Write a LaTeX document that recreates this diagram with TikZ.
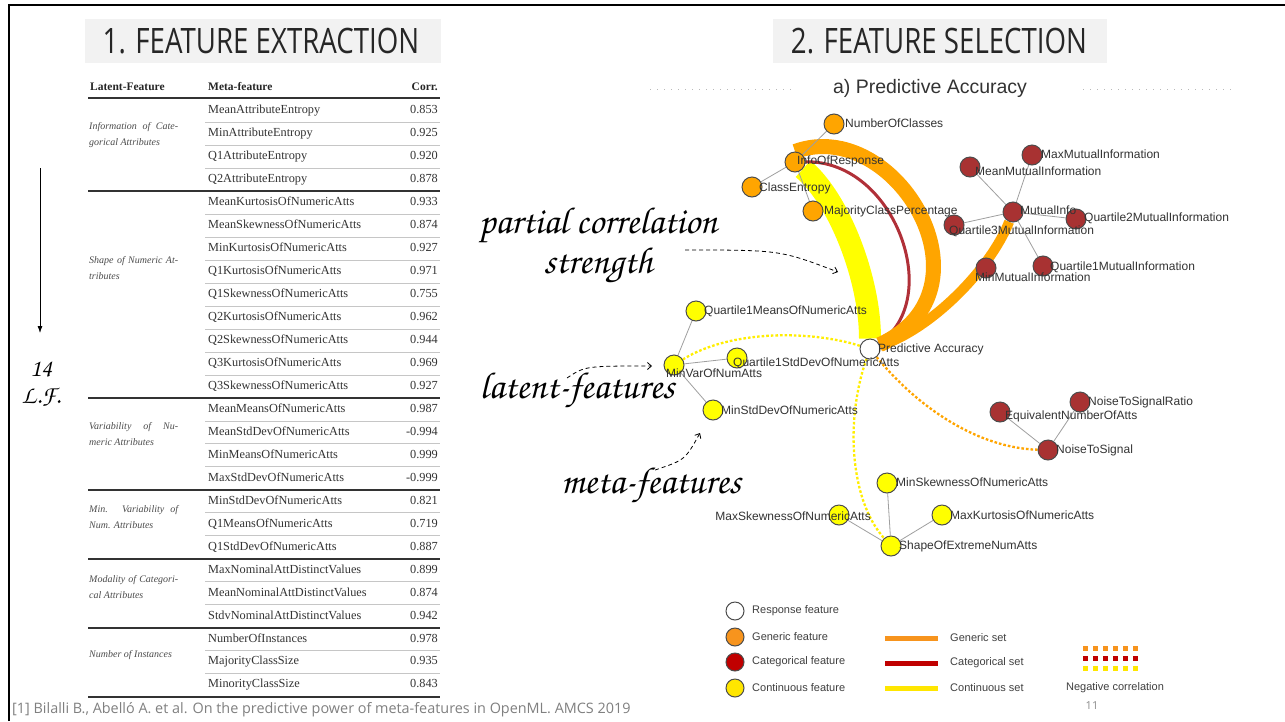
\documentclass[tikz,border=0pt]{standalone}
\usepackage[T1,TU]{fontenc}
\usepackage{fontspec}
\setmainfont{Liberation Serif}
\newfontfamily\sansfont{Liberation Sans}
\newfontfamily\slidefont{Open Sans}
\newfontfamily\titlefont[FakeStretch=0.79]{Open Sans}
\newcommand\handfont{\fontencoding{T1}\fontfamily{pzc}\fontseries{mb}\fontshape{it}\selectfont}
\usepackage{tikz}
\usetikzlibrary{arrows.meta}
\usetikzlibrary{backgrounds}

\definecolor{genorange}{HTML}{FFA500}
\definecolor{catred}{HTML}{A83232}
\definecolor{conyellow}{HTML}{FFFF00}
\definecolor{setred}{HTML}{B03038}
\definecolor{dotyellow}{HTML}{FFEE00}
\definecolor{lgorange}{HTML}{F7941D}
\definecolor{lgred}{HTML}{C00000}
\definecolor{lgyellow}{HTML}{FFE600}

\tikzset{
  fnode/.style={circle,draw=black!70,line width=1pt,minimum size=20pt,inner sep=0pt},
  gen/.style={fnode,fill=genorange},
  cat/.style={fnode,fill=catred},
  con/.style={fnode,fill=conyellow},
  resp/.style={fnode,fill=white},
  flabel/.style={anchor=west,inner sep=0pt,text height=8.5pt,text depth=2.5pt,font=\sansfont\fontsize{12}{12}\selectfont,text=black!80},
  link/.style={draw=gray!75,line width=0.8pt},
  negcor/.style={line width=2.3pt,dash pattern=on 2.6pt off 2pt},
  meta/.style={anchor=west,inner sep=0pt,text height=8.5pt,text depth=2.7pt,font=\fontsize{12.3}{12}\selectfont,text=black!80},
  corr/.style={meta,anchor=east},
  latent/.style={anchor=west,inner sep=0pt,text width=89pt,align=justify,font=\itshape\fontsize{10}{16}\selectfont,text=black!70},
  head/.style={inner sep=0pt,text height=8.5pt,text depth=2.7pt,font=\bfseries\fontsize{11.5}{12}\selectfont,text=black!85},
  thinrule/.style={draw=gray!45,line width=0.9pt},
  thickrule/.style={draw=black!80,line width=2pt},
  hand/.style={inner sep=0pt,align=center,font=\handfont\fontsize{37.5}{29}\selectfont},
  note/.style={line width=0.8pt,dash pattern=on 4pt off 3pt,-{Straight Barb[length=4pt,width=7pt]}},
  title/.style={inner sep=0pt,font=\titlefont\fontsize{35}{35}\selectfont,text=black!85},
  lgtext/.style={anchor=west,inner sep=0pt,font=\sansfont\fontsize{11}{11}\selectfont,text=black!75}
}

\begin{document}
\begin{tikzpicture}[x=1pt,y=-1pt]
\useasboundingbox (0,0) rectangle (1285,721);
\begin{scope}[on background layer]
\fill[white] (0,0) rectangle (1285,721);
\end{scope}

% frame
\draw[line width=2.5pt] (9,721) -- (9,5) -- (1285,5);

% section titles
\fill[gray!10] (85,19) rectangle (441,63);
\node[title] (title1) at (261,41) {1. FEATURE EXTRACTION};
\fill[gray!10] (773,19) rectangle (1107,63);
\node[title] (title2) at (939,41) {2. FEATURE SELECTION};

% table of latent features
\node[head,anchor=west] (hlatent) at (90,88) {Latent-Feature};
\node[head,anchor=west] (hmeta) at (208,88) {Meta-feature};
\node[head,anchor=east] (hcorr) at (438,88) {Corr.};
\draw[thickrule] (88,97.5) -- (440,97.5);

\node[latent] (g1) at (89,135) {Information of Cate-\linebreak gorical Attributes};
\node[latent] (g2) at (89,268) {Shape of Numeric At-\linebreak tributes};
\node[latent] (g3) at (89,434.5) {Variability of Nu-\linebreak meric Attributes};
\node[latent] (g4) at (89,517) {Min. Variability of\linebreak Num. Attributes};
\node[latent] (g5) at (89,587) {Modality of Categori-\linebreak cal Attributes};
\node[latent] (g6) at (89,655) {Number of Instances};

\node[meta] (m1) at (208,111.0) {MeanAttributeEntropy};
\node[corr] (c1) at (438,111.0) {0.853};
\node[meta] (m2) at (208,134.0) {MinAttributeEntropy};
\node[corr] (c2) at (438,134.0) {0.925};
\node[meta] (m3) at (208,156.9) {Q1AttributeEntropy};
\node[corr] (c3) at (438,156.9) {0.920};
\node[meta] (m4) at (208,179.9) {Q2AttributeEntropy};
\node[corr] (c4) at (438,179.9) {0.878};
\node[meta] (m5) at (208,202.8) {MeanKurtosisOfNumericAtts};
\node[corr] (c5) at (438,202.8) {0.933};
\node[meta] (m6) at (208,225.8) {MeanSkewnessOfNumericAtts};
\node[corr] (c6) at (438,225.8) {0.874};
\node[meta] (m7) at (208,248.8) {MinKurtosisOfNumericAtts};
\node[corr] (c7) at (438,248.8) {0.927};
\node[meta] (m8) at (208,271.7) {Q1KurtosisOfNumericAtts};
\node[corr] (c8) at (438,271.7) {0.971};
\node[meta] (m9) at (208,294.7) {Q1SkewnessOfNumericAtts};
\node[corr] (c9) at (438,294.7) {0.755};
\node[meta] (m10) at (208,317.6) {Q2KurtosisOfNumericAtts};
\node[corr] (c10) at (438,317.6) {0.962};
\node[meta] (m11) at (208,340.6) {Q2SkewnessOfNumericAtts};
\node[corr] (c11) at (438,340.6) {0.944};
\node[meta] (m12) at (208,363.6) {Q3KurtosisOfNumericAtts};
\node[corr] (c12) at (438,363.6) {0.969};
\node[meta] (m13) at (208,386.5) {Q3SkewnessOfNumericAtts};
\node[corr] (c13) at (438,386.5) {0.927};
\node[meta] (m14) at (208,409.5) {MeanMeansOfNumericAtts};
\node[corr] (c14) at (438,409.5) {0.987};
\node[meta] (m15) at (208,432.4) {MeanStdDevOfNumericAtts};
\node[corr] (c15) at (438,432.4) {-0.994};
\node[meta] (m16) at (208,455.4) {MinMeansOfNumericAtts};
\node[corr] (c16) at (438,455.4) {0.999};
\node[meta] (m17) at (208,478.4) {MaxStdDevOfNumericAtts};
\node[corr] (c17) at (438,478.4) {-0.999};
\node[meta] (m18) at (208,501.3) {MinStdDevOfNumericAtts};
\node[corr] (c18) at (438,501.3) {0.821};
\node[meta] (m19) at (208,524.3) {Q1MeansOfNumericAtts};
\node[corr] (c19) at (438,524.3) {0.719};
\node[meta] (m20) at (208,547.2) {Q1StdDevOfNumericAtts};
\node[corr] (c20) at (438,547.2) {0.887};
\node[meta] (m21) at (208,570.2) {MaxNominalAttDistinctValues};
\node[corr] (c21) at (438,570.2) {0.899};
\node[meta] (m22) at (208,593.2) {MeanNominalAttDistinctValues};
\node[corr] (c22) at (438,593.2) {0.874};
\node[meta] (m23) at (208,616.1) {StdvNominalAttDistinctValues};
\node[corr] (c23) at (438,616.1) {0.942};
\node[meta] (m24) at (208,639.1) {NumberOfInstances};
\node[corr] (c24) at (438,639.1) {0.978};
\node[meta] (m25) at (208,662.0) {MajorityClassSize};
\node[corr] (c25) at (438,662.0) {0.935};
\node[meta] (m26) at (208,685.0) {MinorityClassSize};
\node[corr] (c26) at (438,685.0) {0.843};

\draw[thinrule] (205,122.5) -- (440,122.5);
\draw[thinrule] (205,145.5) -- (440,145.5);
\draw[thinrule] (205,168.4) -- (440,168.4);
\draw[thickrule] (88,191.4) -- (440,191.4);
\draw[thinrule] (205,214.3) -- (440,214.3);
\draw[thinrule] (205,237.3) -- (440,237.3);
\draw[thinrule] (205,260.3) -- (440,260.3);
\draw[thinrule] (205,283.2) -- (440,283.2);
\draw[thinrule] (205,306.2) -- (440,306.2);
\draw[thinrule] (205,329.1) -- (440,329.1);
\draw[thinrule] (205,352.1) -- (440,352.1);
\draw[thinrule] (205,375.1) -- (440,375.1);
\draw[thickrule] (88,398.0) -- (440,398.0);
\draw[thinrule] (205,421.0) -- (440,421.0);
\draw[thinrule] (205,443.9) -- (440,443.9);
\draw[thinrule] (205,466.9) -- (440,466.9);
\draw[thickrule] (88,489.9) -- (440,489.9);
\draw[thinrule] (205,512.8) -- (440,512.8);
\draw[thinrule] (205,535.8) -- (440,535.8);
\draw[thickrule] (88,558.7) -- (440,558.7);
\draw[thinrule] (205,581.7) -- (440,581.7);
\draw[thinrule] (205,604.7) -- (440,604.7);
\draw[thickrule] (88,627.6) -- (440,627.6);
\draw[thinrule] (205,650.6) -- (440,650.6);
\draw[thinrule] (205,673.5) -- (440,673.5);
\draw[thickrule] (88,696.5) -- (440,696.5);

% 14 latent features
\coordinate (lftop) at (40,168);
\coordinate (lfbot) at (40,333);
\draw[line width=0.8pt,-{Latex[length=7pt,width=5pt]}] (lftop) -- (lfbot);
\node[hand,font=\handfont\fontsize{25}{27}\selectfont] (lfcount) at (41,384) {14\\L.F.};

% graph header
\node[inner sep=0pt,font=\sansfont\fontsize{19.5}{20}\selectfont,text=black!80] (gtitle) at (930,88) {a) Predictive Accuracy};
\draw[gray!55,line width=1pt,dash pattern=on 1pt off 6pt] (650,89) -- (795,89);
\draw[gray!55,line width=1pt,dash pattern=on 1pt off 6pt] (1083,89) -- (1232,89);

% feature nodes
\node[gen] (noc) at (834,124) {};
\node[gen] (info) at (795,162) {};
\node[gen] (cent) at (752,187) {};
\node[gen] (mcp) at (813,211) {};
\node[cat] (maxmi) at (1032,155) {};
\node[cat] (meanmi) at (970,167) {};
\node[cat] (mi) at (1013,212) {};
\node[cat] (q2mi) at (1076,219) {};
\node[cat] (q3mi) at (954,225) {};
\node[cat] (q1mi) at (1043,266) {};
\node[cat] (minmi) at (986,268) {};
\node[con] (q1mean) at (696,311) {};
\node[con] (minvar) at (674,365) {};
\node[con] (q1std) at (737,358) {};
\node[con] (minstd) at (713,410) {};
\node[resp] (pa) at (870,349) {};
\node[cat] (nsr) at (1080,402) {};
\node[cat] (ena) at (1000,412) {};
\node[cat] (nts) at (1048,450) {};
\node[con] (minskew) at (887,483) {};
\node[con] (maxskew) at (839,515) {};
\node[con] (maxkurt) at (942,515) {};
\node[con] (shape) at (891,546) {};

\node[flabel] (noc-t) at (845,124) {NumberOfClasses};
\node[flabel] (info-t) at (797,161) {InfoOfResponse};
\node[flabel] (cent-t) at (759,188) {ClassEntropy};
\node[flabel] (mcp-t) at (824,211) {MajorityClassPercentage};
\node[flabel] (maxmi-t) at (1041,155) {MaxMutualInformation};
\node[flabel] (meanmi-t) at (975,172) {MeanMutualInformation};
\node[flabel] (mi-t) at (1020,211) {MutualInfo};
\node[flabel] (q2mi-t) at (1084,218) {Quartile2MutualInformation};
\node[flabel] (q3mi-t) at (949,231) {Quartile3MutualInformation};
\node[flabel] (q1mi-t) at (1050,267) {Quartile1MutualInformation};
\node[flabel] (minmi-t) at (975,278) {MinMutualInformation};
\node[flabel] (q1mean-t) at (704,311) {Quartile1MeansOfNumericAtts};
\node[flabel] (q1std-t) at (733,363) {Quartile1StdDevOfNumericAtts};
\node[flabel] (minvar-t) at (666,374) {MinVarOfNumAtts};
\node[flabel] (minstd-t) at (721,411) {MinStdDevOfNumericAtts};
\node[flabel] (pa-t) at (878,349) {Predictive Accuracy};
\node[flabel] (nsr-t) at (1088,402) {NoiseToSignalRatio};
\node[flabel] (ena-t) at (1005,416) {EquivalentNumberOfAtts};
\node[flabel] (nts-t) at (1056,450) {NoiseToSignal};
\node[flabel] (minskew-t) at (896,483) {MinSkewnessOfNumericAtts};
\node[flabel,anchor=east] (maxskew-t) at (871,517) {MaxSkewnessOfNumericAtts};
\node[flabel] (maxkurt-t) at (950,516) {MaxKurtosisOfNumericAtts};
\node[flabel] (shape-t) at (899,546) {ShapeOfExtremeNumAtts};

\begin{scope}[on background layer]
% correlation sets
\draw[conyellow,line width=22pt] (info) .. controls (840,200) and (870,280) .. (pa);
\draw[setred,line width=3pt] (info) .. controls (895,160) and (945,300) .. (pa);
\draw[genorange,line width=15pt] (info.north) .. controls (895,115) and (1000,290) .. (pa);
\draw[genorange,line width=10pt] (mi) .. controls (990,270) and (930,330) .. (pa);
% negative correlations
\draw[negcor,dotyellow] (minvar) .. controls (730,330) and (810,330) .. (pa);
\draw[negcor,dotyellow] (pa) .. controls (845,420) and (850,500) .. (shape);
\draw[negcor,genorange] (pa) .. controls (920,410) and (980,448) .. (nts);
% feature links
\draw[link] (info) -- (noc);
\draw[link] (info) -- (cent);
\draw[link] (info) -- (mcp);
\draw[link] (mi) -- (meanmi);
\draw[link] (mi) -- (maxmi);
\draw[link] (mi) -- (q3mi);
\draw[link] (mi) -- (q2mi);
\draw[link] (mi) -- (q1mi);
\draw[link] (minvar) -- (q1mean);
\draw[link] (minvar) -- (q1std);
\draw[link] (minvar) -- (minstd);
\draw[link] (nts) -- (nsr);
\draw[link] (nts) -- (ena);
\draw[link] (shape) -- (minskew);
\draw[link] (shape) -- (maxskew);
\draw[link] (shape) -- (maxkurt);
\end{scope}

% notes
\node[hand] (pcorr) at (598,246) {partial correlation\\strength};
\coordinate (pcs-tail) at (685,250);
\coordinate (pcs-head) at (838,272);
\draw[note] (pcs-tail) .. controls (780,250) .. (pcs-head);
\node[hand] (latent) at (577,391) {latent-features};
\coordinate (lat-tail) at (567,378);
\coordinate (lat-head) at (652,366);
\draw[note] (lat-tail) .. controls (585,366) .. (lat-head);
\node[hand] (metaf) at (651,486) {meta-features};
\coordinate (met-tail) at (655,470);
\coordinate (met-head) at (700,433);
\draw[note] (met-tail) .. controls (685,460) .. (met-head);

% legend
\node[resp,minimum size=18pt] (lgresp) at (735,611) {};
\node[lgtext] (lgresp-t) at (752,611) {Response feature};
\node[fnode,minimum size=18pt,fill=lgorange] (lggen) at (735,637) {};
\node[lgtext] (lggen-t) at (752,637) {Generic feature};
\node[fnode,minimum size=18pt,fill=lgred] (lgcat) at (735,662) {};
\node[lgtext] (lgcat-t) at (752,662) {Categorical feature};
\node[fnode,minimum size=18pt,fill=lgyellow] (lgcon) at (735,688) {};
\node[lgtext] (lgcon-t) at (752,688) {Continuous feature};
\draw[lgorange,line width=5pt] (885,638) -- (938,638);
\node[lgtext] (lggset) at (950,638) {Generic set};
\draw[lgred,line width=5pt] (885,663) -- (938,663);
\node[lgtext] (lgcset) at (950,663) {Categorical set};
\draw[lgyellow,line width=5pt] (885,688) -- (938,688);
\node[lgtext] (lgyset) at (950,688) {Continuous set};
\draw[lgorange,line width=5pt,dash pattern=on 5pt off 5pt] (1083,648) -- (1140,648);
\draw[lgred,line width=5pt,dash pattern=on 5pt off 5pt] (1083,658) -- (1140,658);
\draw[lgyellow,line width=5pt,dash pattern=on 5pt off 5pt] (1083,668) -- (1140,668);
\node[lgtext,anchor=center] (lgneg) at (1115,688) {Negative correlation};

% footer
\node[anchor=west,inner sep=0pt,font=\slidefont\fontsize{14.4}{15}\selectfont,text=black!50] (cite) at (12,710) {[1] Bilalli B., Abelló A. et al. On the predictive power of meta-features in OpenML. AMCS 2019};
\node[inner sep=0pt,font=\slidefont\fontsize{11}{11}\selectfont,text=black!45] (pagenum) at (1092,706) {11};

\end{tikzpicture}
\end{document}
